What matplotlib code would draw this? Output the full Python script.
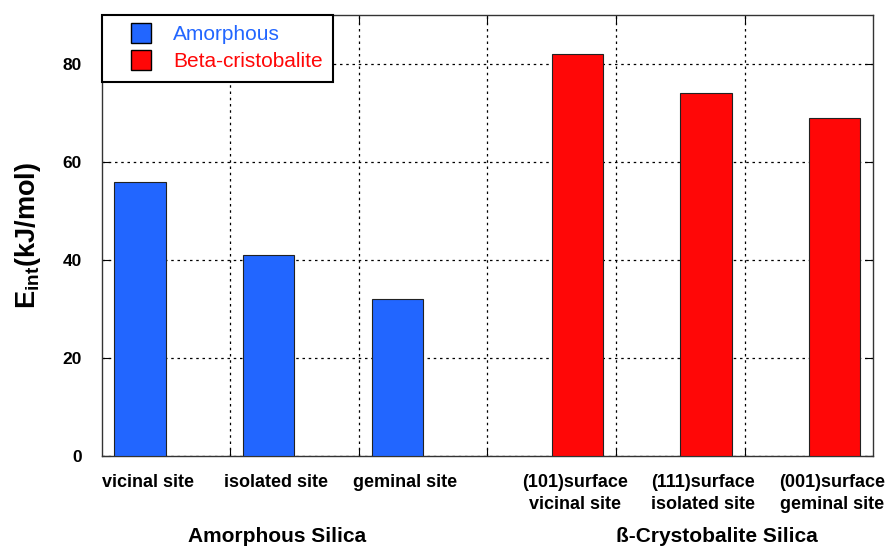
import matplotlib
matplotlib.use('Agg')
import matplotlib.pyplot as plt
from matplotlib.lines import Line2D
import numpy as np

plt.rcParams['font.family'] = ['Liberation Sans', 'DejaVu Sans']
plt.rcParams['mathtext.fontset'] = 'custom'
plt.rcParams['mathtext.rm'] = 'Liberation Sans:bold'
plt.rcParams['mathtext.bf'] = 'Liberation Sans:bold'
plt.rcParams['mathtext.it'] = 'Liberation Sans:bold'

# Interaction energies (kJ/mol) for each adsorption site
amorphous_sites = ['vicinal site', 'isolated site', 'geminal site']
amorphous_vals = [56, 41, 32]
crystal_sites = ['(101)surface\nvicinal site', '(111)surface\nisolated site',
                 '(001)surface\ngeminal site']
crystal_vals = [82, 74, 69]

blue = '#2266ff'
red = '#ff0707'

fig = plt.figure(figsize=(8.89, 5.48), dpi=100)
ax = fig.add_axes([0.1142, 0.1684, 0.8681, 0.8042])

n_am = len(amorphous_vals)
n_cr = len(crystal_vals)
x_am = np.arange(n_am)
x_cr = np.arange(n_am, n_am + n_cr)
width = 0.4

ax.bar(x_am + 0.1, amorphous_vals, width, align='edge', color=blue,
       edgecolor='#222222', linewidth=0.8, zorder=3)
ax.bar(x_cr + 0.5, crystal_vals, width, align='edge', color=red,
       edgecolor='#222222', linewidth=0.8, zorder=3)

ax.set_xlim(0, n_am + n_cr)
ax.set_ylim(0, 90)

# grid lines between groups, site labels as minor ticks
ax.set_xticks(np.arange(1, n_am + n_cr))
ax.set_xticklabels([])
ax.set_xticks(np.concatenate([x_am + 0.36, x_cr + 0.68]), minor=True)
ax.set_xticklabels(amorphous_sites + crystal_sites, minor=True,
                   fontsize=13, fontweight='bold', linespacing=1.4)
ax.tick_params(axis='x', which='minor', length=0, pad=13)
ax.tick_params(axis='x', which='major', direction='in', length=6, top=True)

ax.set_yticks([0, 20, 40, 60, 80])
ax.tick_params(axis='y', direction='in', length=6, right=True, pad=14,
               labelsize=12.5)
for t in ax.get_yticklabels():
    t.set_fontweight('bold')

ax.grid(True, which='major', color='black', linestyle=(0, (2, 3)),
        linewidth=0.9, zorder=1)
for s in ax.spines.values():
    s.set_linewidth(1.0)
    s.set_color('#333333')

ax.set_ylabel(r'$\mathbf{E_{int}}$(kJ/mol)', fontsize=19.5, fontweight='bold',
              labelpad=14)

fig.text(277 / 889, 1 - 537 / 548, 'Amorphous Silica', ha='center',
         va='center', fontsize=15, fontweight='bold')
fig.text(717 / 889, 1 - 537 / 548, 'ß-Crystobalite Silica', ha='center',
         va='center', fontsize=15, fontweight='bold')

handles = [
    Line2D([], [], linestyle='none', marker='s', markersize=14.4,
           markerfacecolor=blue, markeredgecolor='black', markeredgewidth=1),
    Line2D([], [], linestyle='none', marker='s', markersize=14.4,
           markerfacecolor=red, markeredgecolor='black', markeredgewidth=1),
]
leg = ax.legend(handles, ['Amorphous', 'Beta-cristobalite'], loc='upper left',
                bbox_to_anchor=(0, 1), borderaxespad=0, fontsize=15,
                handlelength=2.8, handletextpad=0.15, labelspacing=0.38,
                borderpad=0.5, fancybox=False, framealpha=1)
leg.get_frame().set_edgecolor('black')
leg.get_frame().set_linewidth(1.5)
leg.set_zorder(5)
for txt, c in zip(leg.get_texts(), [blue, red]):
    txt.set_color(c)

fig.savefig('out.png', dpi=100)
